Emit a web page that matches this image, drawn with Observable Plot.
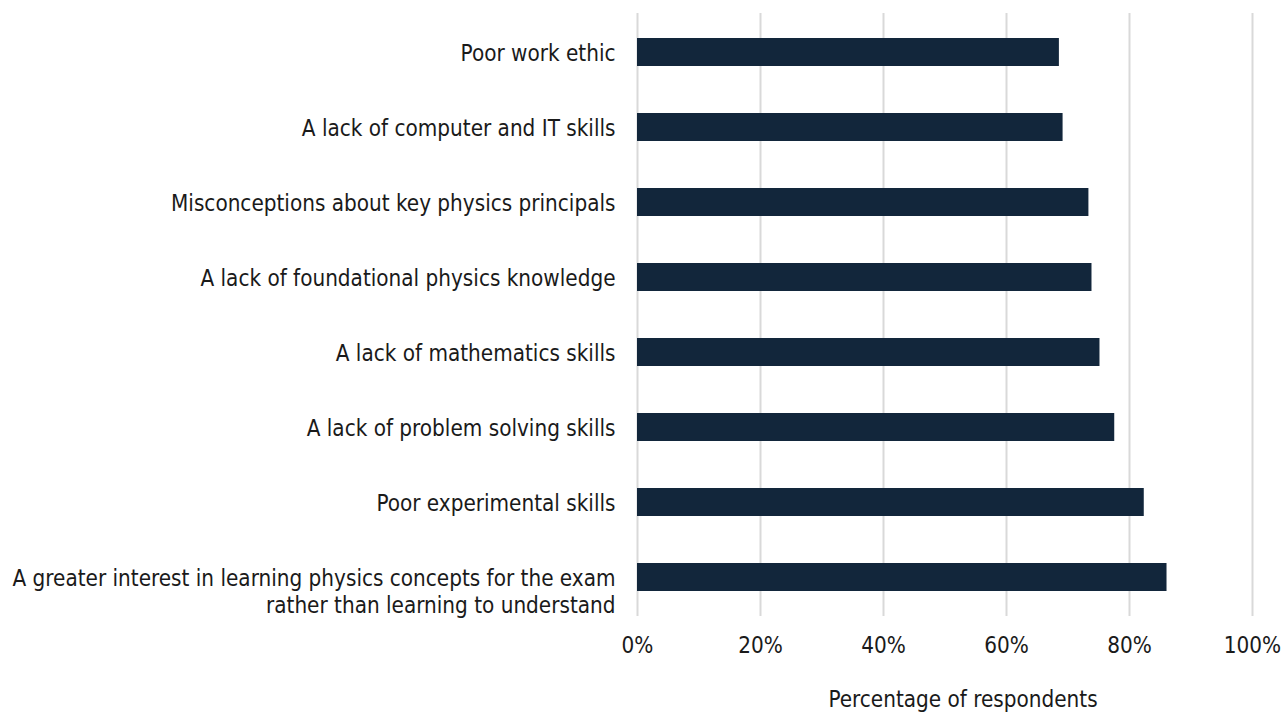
<!DOCTYPE html>
<html>
<head>
<meta charset="utf-8">
<script src="https://cdn.jsdelivr.net/npm/d3@7"></script>
<script src="https://cdn.jsdelivr.net/npm/@observablehq/plot@0.6"></script>
<style>
  html, body { margin: 0; padding: 0; background: #fff; }
  #chart svg { display: block; }
</style>
</head>
<body>
<div id="chart"></div>
<script>
const categories = [
  "Poor work ethic",
  "A lack of computer and IT skills",
  "Misconceptions about key physics principals",
  "A lack of foundational physics knowledge",
  "A lack of mathematics skills",
  "A lack of problem solving skills",
  "Poor experimental skills",
  "A greater interest in learning physics concepts for the exam\nrather than learning to understand"
];
const values = [68.6, 69.2, 73.4, 73.9, 75.2, 77.6, 82.4, 86.1];
const xTicks = [0, 20, 40, 60, 80, 100];
const xTitle = "Percentage of respondents";

const data = categories.map((c, i) => ({category: c, value: values[i]}));

const FS = 22.3;
const chart = Plot.plot({
  width: 1284,
  height: 713,
  marginLeft: 637,
  marginRight: 32,
  marginTop: 13,
  marginBottom: 97,
  style: {fontFamily: "'DejaVu Sans Condensed', 'DejaVu Sans', sans-serif", fontSize: FS + "px", color: "#1a1a1a", background: "#fff"},
  x: {domain: [0, 100]},
  y: {domain: categories, paddingInner: 0.633, paddingOuter: 0.317},
  marks: [
    Plot.gridX(xTicks, {stroke: "#d9d9d9", strokeWidth: 2, strokeOpacity: 1}),
    Plot.barX(data, {x: "value", y: "category", fill: "#12263b"}),
    Plot.axisX(xTicks, {tickSize: 0, tickPadding: 21, tickFormat: d => d + "%", label: null, fontSize: FS}),
    Plot.axisY({tickSize: 0, tickPadding: 22, label: null, lineAnchor: "top", lineHeight: 1.22, dy: -11, fontSize: FS}),
    Plot.text([xTitle], {frameAnchor: "bottom", dy: 90, dx: 18, fontSize: FS, fill: "#1a1a1a"})
  ]
});
document.getElementById("chart").appendChild(chart);
</script>
</body>
</html>
